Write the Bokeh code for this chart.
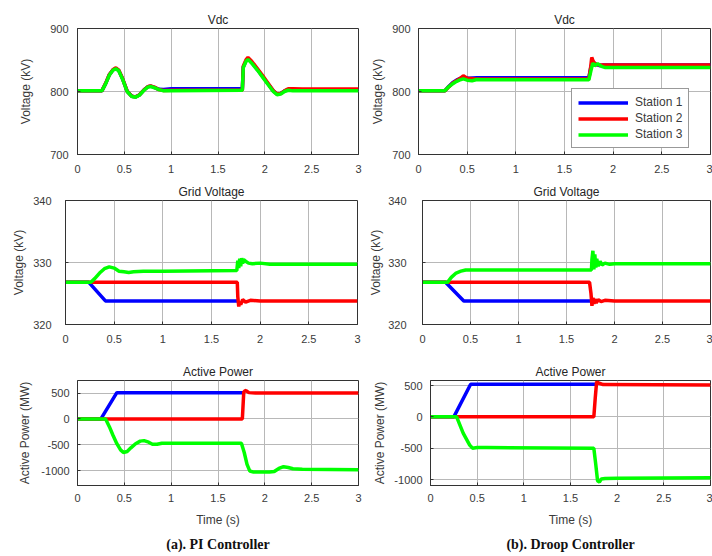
from bokeh.plotting import figure
from bokeh.models import Range1d, FixedTicker, Legend, LegendItem, Title
from bokeh.layouts import column, row
from bokeh.embed import file_html
from bokeh.resources import INLINE

# ---------------- data ----------------
time_ticks = [0, 0.5, 1, 1.5, 2, 2.5, 3]
time_tick_labels = ["0", "0.5", "1", "1.5", "2", "2.5", "3"]
vdc_ticks = [700, 800, 900]
vdc_tick_labels = ["700", "800", "900"]
grid_ticks = [320, 330, 340]
grid_tick_labels = ["320", "330", "340"]
power_ticks = [-1000, -500, 0, 500]
power_tick_labels = ["-1000", "-500", "0", "500"]

station_names = ["Station 1", "Station 2", "Station 3"]
station_colors = ["#0000ff", "#ff0000", "#00ff00"]

# Vdc, PI controller
pi_vdc_t = [0, 0.26, 0.30, 0.34, 0.38, 0.41, 0.44, 0.48, 0.53, 0.58, 0.62, 0.66, 0.71, 0.75, 0.78, 0.82,
            0.87, 0.92, 1.0, 1.76, 1.77, 1.80, 1.82, 1.86, 1.92, 1.98, 2.04, 2.09, 2.13, 2.17, 2.21, 2.25,
            2.3, 2.4, 3.0]
pi_vdc_s1 = [801, 801, 812.5, 826.5, 834.5, 836.5, 833.5, 820.5, 800.5, 792.5, 791.5, 794.5, 802.5, 807.5,
             808.5, 806.5, 803.5, 803, 804.5, 804.5, 839, 849, 852, 846, 835, 823, 811, 801, 796, 797, 801,
             803, 803, 802.5, 802.5]
pi_vdc_s2 = [801, 801, 813, 827, 835, 837.5, 834, 821, 800.5, 792.5, 791.5, 794.5, 802.5, 807.5, 809,
             807, 803, 801.5, 802, 802, 840, 850.5, 854, 848, 836.5, 824.5, 812, 801.5, 796, 797, 801,
             804.5, 804.5, 804, 804]
pi_vdc_s3 = [801, 801, 812, 826, 834, 836, 833, 820, 800, 792, 791, 794, 802, 807, 808, 806, 803, 801,
             801, 802, 838, 848, 851, 845, 834, 822, 810, 800, 795, 796, 800, 802, 801, 801, 801]

# Vdc, droop controller
dr_vdc_s1_t = [0, 0.27, 0.31, 0.35, 0.39, 0.43, 0.47, 0.52, 0.6, 1.75, 1.77, 1.79, 1.82, 1.86, 1.9, 1.95, 3.0]
dr_vdc_s1 = [801, 801, 808, 814, 818, 821, 822, 821, 822, 822, 838, 848, 843, 841, 842, 842, 842]
dr_vdc_s2_t = [0, 0.27, 0.31, 0.35, 0.39, 0.43, 0.46, 0.5, 0.6, 1.75, 1.77, 1.78, 1.8, 1.83, 1.87, 1.92, 3.0]
dr_vdc_s2 = [801, 801, 807, 813, 817, 821, 825, 821, 820, 820, 840, 854, 846, 843, 842, 842, 842]
dr_vdc_s3_t = [0, 0.27, 0.30, 0.34, 0.38, 0.42, 0.46, 0.50, 0.55, 0.6, 0.65, 1.75, 1.77, 1.79, 1.81, 1.84,
               1.88, 1.92, 1.96, 2.0, 3.0]
dr_vdc_s3 = [801, 801, 806, 811, 815, 818, 820, 818, 817, 819, 818.5, 818.5, 832, 845, 841, 844, 840, 838,
             838, 838, 838]

# Grid voltage, PI controller
pi_grid_s1_t = [0, 0.24, 0.41, 1.77]
pi_grid_s1 = [326.8, 326.8, 323.8, 323.8]
pi_grid_s2_t = [0, 1.75, 1.765, 1.77, 1.78, 1.79, 1.8, 1.82, 1.85, 1.9, 2.0, 3.0]
pi_grid_s2 = [326.8, 326.8, 326.8, 324.5, 322.9, 323.7, 323.2, 324.0, 323.6, 323.9, 323.8, 323.8]
pi_grid_s3_t = [0, 0.26, 0.30, 0.35, 0.40, 0.45, 0.50, 0.55, 0.60, 0.65, 0.70, 0.8, 1.0, 1.76, 1.77,
                1.78, 1.79, 1.8, 1.81, 1.82, 1.83, 1.85, 1.88, 1.92, 2.0, 2.1, 3.0]
pi_grid_s3 = [326.8, 326.8, 327.4, 328.3, 329.0, 329.3, 329.1, 328.6, 328.5, 328.4, 328.5, 328.6, 328.6,
              328.7, 330.3, 329.1, 330.6, 329.4, 330.7, 329.8, 330.5, 330.2, 329.9, 329.8, 329.9, 329.7,
              329.7]

# Grid voltage, droop controller
dr_grid_s1_t = [0, 0.24, 0.43, 1.76]
dr_grid_s1 = [326.8, 326.8, 323.8, 323.8]
dr_grid_s2_t = [0, 1.74, 1.755, 1.765, 1.775, 1.785, 1.795, 1.81, 1.83, 1.86, 1.9, 2.0, 3.0]
dr_grid_s2 = [326.8, 326.8, 325.0, 323.0, 324.3, 323.3, 324.1, 323.5, 324.0, 323.7, 323.9, 323.8, 323.8]
dr_grid_s3_t = [0, 0.26, 0.30, 0.35, 0.40, 0.45, 0.5, 0.6, 1.0, 1.76, 1.765, 1.775, 1.785, 1.795, 1.805,
                1.815, 1.83, 1.85, 1.87, 1.9, 1.95, 2.0, 3.0]
dr_grid_s3 = [326.8, 326.8, 327.6, 328.3, 328.6, 328.8, 328.8, 328.8, 328.8, 328.8, 330.5, 331.9, 328.9,
              331.3, 329.2, 330.6, 329.4, 330.2, 329.6, 329.9, 329.7, 329.8, 329.8]

# Active power, PI controller
pi_pow_s1_t = [0, 0.25, 0.42, 1.77]
pi_pow_s1 = [0, 0, 510, 510]
pi_pow_s2_t = [0, 1.76, 1.775, 1.79, 1.8, 1.83, 1.9, 3.0]
pi_pow_s2 = [0, 0, 520, 550, 545, 510, 505, 505]
pi_pow_s3_t = [0, 0.30, 0.34, 0.38, 0.42, 0.46, 0.49, 0.53, 0.57, 0.62, 0.67, 0.71, 0.76, 0.8, 0.85, 0.9,
               1.0, 1.75, 1.78, 1.81, 1.84, 1.88, 1.95, 2.05, 2.1, 2.15, 2.2, 2.25, 2.3, 2.4, 3.0]
pi_pow_s3 = [0, 0, -150, -320, -480, -600, -650, -630, -560, -480, -430, -420, -450, -490, -490, -470,
             -470, -470, -650, -880, -1010, -1030, -1030, -1030, -1020, -960, -925, -940, -965, -975, -985]

# Active power, droop controller
dr_pow_s1_t = [0, 0.25, 0.43, 1.77]
dr_pow_s1 = [0, 0, 520, 520]
dr_pow_s2_t = [0, 1.75, 1.765, 1.78, 1.8, 1.85, 3.0]
dr_pow_s2 = [0, 0, 300, 560, 540, 515, 510]
dr_pow_s3_t = [0, 0.28, 0.35, 0.42, 0.45, 0.5, 0.6, 1.75, 1.77, 1.79, 1.81, 1.83, 1.87, 2.0, 3.0]
dr_pow_s3 = [0, 0, -260, -450, -500, -490, -490, -500, -750, -1020, -1040, -990, -985, -980, -970]

FONT = "Liberation Sans"
TEXT_COL = "#3a3a3a"


def make_fig(title, width, height, bl, br, bt, bb, y_rng, yticks, ylabels, ylabel,
             tick_size, ylab_standoff, yaxis_label_standoff, x_standoff, xlabel=None):
    p = figure(width=width, height=height, x_range=Range1d(0, 3), y_range=Range1d(*y_rng),
               output_backend="svg", toolbar_location=None,
               min_border_left=bl, min_border_right=br, min_border_top=bt, min_border_bottom=bb,
               title=title)
    p.title.align = "center"
    p.title.text_font = FONT
    p.title.text_font_size = "12px"
    p.title.text_font_style = "normal"
    p.title.text_color = "#262626"
    p.title.standoff = 4
    p.background_fill_color = "white"
    p.border_fill_color = "white"
    p.outline_line_color = "#333333"
    p.outline_line_width = 1

    p.xaxis.ticker = FixedTicker(ticks=time_ticks)
    p.xaxis.major_label_overrides = dict(zip(time_ticks, time_tick_labels))
    p.yaxis.ticker = FixedTicker(ticks=yticks)
    p.yaxis.major_label_overrides = dict(zip(yticks, ylabels))
    for ax in (p.xaxis, p.yaxis):
        ax.axis_line_color = "#333333"
        ax.major_tick_line_color = "#333333"
        ax.major_tick_in = 3
        ax.major_tick_out = 0
        ax.minor_tick_line_color = None
        ax.major_label_text_font = FONT
        ax.major_label_text_font_size = tick_size
        ax.major_label_text_color = TEXT_COL
        ax.axis_label_text_font = FONT
        ax.axis_label_text_font_size = "12px"
        ax.axis_label_text_font_style = "normal"
        ax.axis_label_text_color = TEXT_COL
    p.yaxis.major_label_standoff = ylab_standoff
    p.yaxis.axis_label = ylabel
    p.yaxis.axis_label_standoff = yaxis_label_standoff
    p.xaxis.major_label_standoff = x_standoff
    if xlabel:
        p.xaxis.axis_label = xlabel
        p.xaxis.axis_label_standoff = 8
    p.grid.grid_line_color = "#b8b8b8"
    p.grid.grid_line_width = 1
    return p


def add_lines(p, series):
    rends = []
    for (t, v), name, col in zip(series, station_names, station_colors):
        r = p.line(t, v, line_color=col, line_width=3.5)
        rends.append(r)
    return rends


# Row 1: Vdc
f1 = make_fig("Vdc", 366, 178, 77, 8, 28, 24, (700, 900), vdc_ticks, vdc_tick_labels,
              "Voltage (kV)", "11px", 9, 14, 10)
add_lines(f1, [(pi_vdc_t, pi_vdc_s1), (pi_vdc_t, pi_vdc_s2), (pi_vdc_t, pi_vdc_s3)])

f2 = make_fig("Vdc", 346, 178, 52, 2, 28, 24, (700, 900), vdc_ticks, vdc_tick_labels,
              "Voltage (kV)", "11px", 8, 4, 10)
r2 = add_lines(f2, [(dr_vdc_s1_t, dr_vdc_s1), (dr_vdc_s2_t, dr_vdc_s2), (dr_vdc_s3_t, dr_vdc_s3)])
legend = Legend(items=[LegendItem(label=n, renderers=[r]) for n, r in zip(station_names, r2)],
                location=(153, 6), margin=0, padding=6, spacing=2,
                glyph_width=50, glyph_height=13, label_height=13, label_standoff=7,
                label_text_font=FONT, label_text_font_size="12px", label_text_color=TEXT_COL,
                border_line_color="#333333", border_line_width=1, background_fill_alpha=1)
f2.add_layout(legend)

# Row 2: Grid voltage
f3 = make_fig("Grid Voltage", 366, 177, 65, 9, 22, 31, (320, 340), grid_ticks, grid_tick_labels,
              "Voltage (kV)", "11px", 14, 4, 10)
add_lines(f3, [(pi_grid_s1_t, pi_grid_s1), (pi_grid_s2_t, pi_grid_s2), (pi_grid_s3_t, pi_grid_s3)])

f4 = make_fig("Grid Voltage", 346, 177, 52, 2, 22, 31, (320, 340), grid_ticks, grid_tick_labels,
              "Voltage (kV)", "11px", 16, 2, 10)
add_lines(f4, [(dr_grid_s1_t, dr_grid_s1), (dr_grid_s2_t, dr_grid_s2), (dr_grid_s3_t, dr_grid_s3)])

# Row 3: Active power
f5 = make_fig("Active Power", 366, 201, 77, 8, 25, 71, (-1290, 745), power_ticks, power_tick_labels,
              "Active Power (MW)", "11px", 8, 6, 8, xlabel="Time (s)")
add_lines(f5, [(pi_pow_s1_t, pi_pow_s1), (pi_pow_s2_t, pi_pow_s2), (pi_pow_s3_t, pi_pow_s3)])

f6 = make_fig("Active Power", 346, 201, 64, 2, 25, 71, (-1095, 580), power_ticks, power_tick_labels,
              "Active Power (MW)", "11px", 8, 4, 8, xlabel="Time (s)")
add_lines(f6, [(dr_pow_s1_t, dr_pow_s1), (dr_pow_s2_t, dr_pow_s2), (dr_pow_s3_t, dr_pow_s3)])

for f, cap in ((f5, "(a). PI Controller"), (f6, "(b). Droop Controller")):
    f.add_layout(Title(text=cap, align="center", text_font="Liberation Serif", text_font_size="14px",
                       text_font_style="bold", text_color="#111111", standoff=10), "below")

layout = column(row(f1, f2), row(f3, f4), row(f5, f6))
open("out.html", "w").write(file_html(layout, INLINE))
